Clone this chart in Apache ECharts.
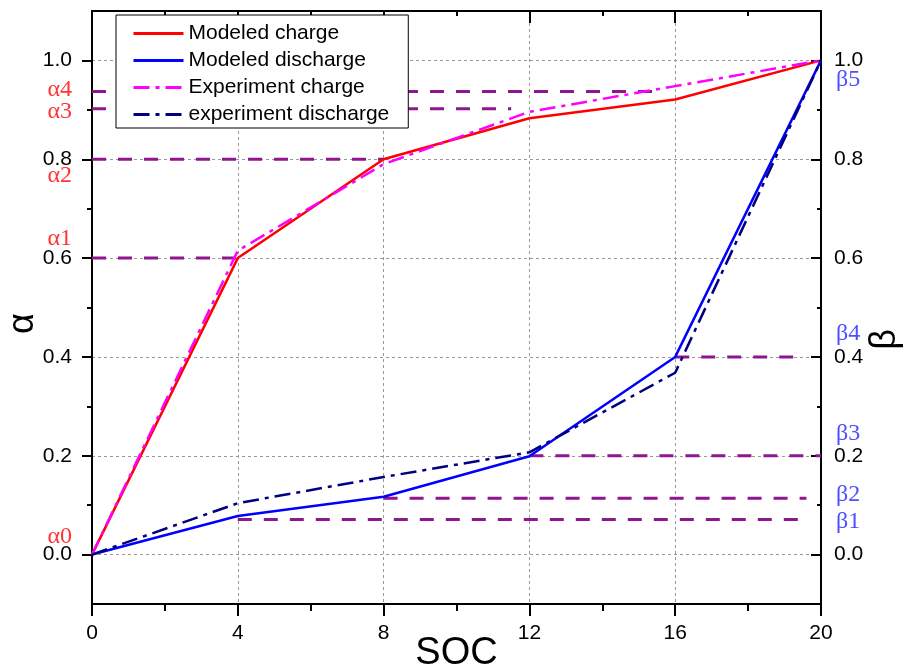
<!DOCTYPE html>
<html>
<head>
<meta charset="utf-8">
<script src="https://cdn.jsdelivr.net/npm/echarts@6/dist/echarts.min.js"></script>
<style>
html,body{margin:0;padding:0;background:#fff;}
#chart{width:915px;height:668px;}
</style>
</head>
<body>
<div id="chart"></div>
<script>
// ---- data ----
const soc = [0, 4, 8, 12, 16, 20];
const modeledCharge = [0, 0.6, 0.8, 0.883, 0.921, 1.0];
const modeledDischarge = [0, 0.078, 0.117, 0.199, 0.4, 1.0];
const experimentCharge = [0, 0.615, 0.79, 0.896, 0.948, 1.0];
const experimentDischarge = [0, 0.104, 0.157, 0.207, 0.368, 1.0];
const seriesNames = ['Modeled charge', 'Modeled discharge', 'Experiment charge', 'experiment discharge'];

const yTicks = [0, 0.2, 0.4, 0.6, 0.8, 1.0];

// reference (dashed) levels
const alphaLevels = [0.6, 0.8, 0.902, 0.937];
const alphaStart = [0, 0, 0, 0];
const alphaEnd = [4, 8, 11.5, 15.4];
const betaLevels = [0.071, 0.114, 0.2, 0.4];
const betaStart = [4, 8, 12, 16];
const betaEnd = [19.5, 19.6, 20, 19.4];

// annotation labels (text, y position)
const alphaNames = ['α0', 'α1', 'α2', 'α3', 'α4'];
const alphaLabelY = [0.037, 0.64, 0.766, 0.896, 0.941];
const betaNames = ['β1', 'β2', 'β3', 'β4', 'β5'];
const betaLabelY = [0.067, 0.122, 0.244, 0.447, 0.961];

const pair = (xs, ys) => xs.map((x, i) => [x, ys[i]]);

const chart = echarts.init(document.getElementById('chart'));

const refSeries = [];
alphaLevels.forEach((v, i) => {
  refSeries.push({
    type: 'line', xAxisIndex: 0, yAxisIndex: 0, silent: true, symbol: 'none', z: 1,
    data: [[alphaStart[i], v], [alphaEnd[i], v]],
    lineStyle: { color: '#8E168E', width: 3, type: [14, 12] }
  });
});
betaLevels.forEach((v, i) => {
  refSeries.push({
    type: 'line', xAxisIndex: 0, yAxisIndex: 1, silent: true, symbol: 'none', z: 1,
    data: [[betaStart[i], v], [betaEnd[i], v]],
    lineStyle: { color: '#8E168E', width: 3, type: [14, 12] }
  });
});

const axisFont = { fontFamily: 'Liberation Sans, Arial, sans-serif', fontSize: 21, color: '#000' };

const option = {
  animation: false,
  backgroundColor: '#fff',
  grid: { left: 92, right: 94, top: 11, bottom: 64, containLabel: false, outerBoundsMode: 'none' },
  legend: {
    data: seriesNames,
    orient: 'vertical',
    left: 116, top: 15,
    padding: [8, 19, 3, 16],
    itemWidth: 50, itemHeight: 14, itemGap: 6,
    backgroundColor: '#fff', borderColor: '#000', borderWidth: 1,
    itemStyle: { opacity: 0 },
    lineStyle: { width: 3 },
    textStyle: { fontFamily: 'Liberation Sans, Arial, sans-serif', fontSize: 21, color: '#000', lineHeight: 21 }
  },
  xAxis: [
    {
      type: 'value', position: 'bottom', min: 0, max: 20, interval: 4,
      name: 'SOC', nameLocation: 'middle', nameGap: 31, nameMoveOverlap: false,
      nameTextStyle: { fontFamily: 'Liberation Sans, Arial, sans-serif', fontSize: 38, color: '#000' },
      axisLine: { show: true, onZero: false, lineStyle: { color: '#000', width: 2 } },
      axisTick: { show: true, inside: false, length: 12, lineStyle: { color: '#000', width: 2 } },
      minorTick: { show: true, splitNumber: 2, length: 7, lineStyle: { color: '#000', width: 2 } },
      axisLabel: Object.assign({ margin: 19 }, axisFont),
      splitLine: { show: true, lineStyle: { color: '#999', width: 1, type: [3, 3] } }
    },
    {
      type: 'value', position: 'top', min: 0, max: 20, interval: 4,
      axisLine: { show: true, onZero: false, lineStyle: { color: '#000', width: 2 } },
      axisTick: { show: true, inside: true, length: 12, lineStyle: { color: '#000', width: 2 } },
      minorTick: { show: true, splitNumber: 2, length: 5, lineStyle: { color: '#000', width: 2 } },
      axisLabel: { show: false },
      splitLine: { show: false }
    }
  ],
  yAxis: [
    {
      type: 'value', position: 'left', min: -0.1, max: 1.1, splitNumber: 6,
      name: 'α', nameLocation: 'middle', nameGap: 51, nameRotate: 90, nameMoveOverlap: false,
      nameTextStyle: { fontFamily: 'Liberation Sans, Arial, sans-serif', fontSize: 36, color: '#000', padding: [0, 32, 0, 0] },
      axisLine: { show: true, onZero: false, lineStyle: { color: '#000', width: 2 } },
      axisTick: { show: true, inside: false, length: 10, customValues: yTicks, lineStyle: { color: '#000', width: 2 } },
      minorTick: { show: true, splitNumber: 2, length: 5, lineStyle: { color: '#000', width: 2 } },
      axisLabel: Object.assign({ margin: 20, customValues: yTicks, formatter: v => v.toFixed(1) }, axisFont),
      splitLine: { show: true, lineStyle: { color: '#999', width: 1, type: [3, 3] } }
    },
    {
      type: 'value', position: 'right', min: -0.1, max: 1.1, splitNumber: 6,
      name: 'β', nameLocation: 'middle', nameGap: 46, nameRotate: 90, nameMoveOverlap: false,
      nameTextStyle: { fontFamily: 'Liberation Sans, Arial, sans-serif', fontSize: 36, color: '#000', padding: [0, 64, 0, 0] },
      axisLine: { show: true, onZero: false, lineStyle: { color: '#000', width: 2 } },
      axisTick: { show: true, inside: true, length: 10, customValues: yTicks, lineStyle: { color: '#000', width: 2 } },
      minorTick: { show: true, splitNumber: 2, length: 4, lineStyle: { color: '#000', width: 2 } },
      axisLabel: Object.assign({ margin: 13, customValues: yTicks, formatter: v => v.toFixed(1) }, axisFont),
      splitLine: { show: false }
    }
  ],
  series: refSeries.concat([
    {
      name: seriesNames[0], type: 'line', xAxisIndex: 0, yAxisIndex: 0, symbol: 'none', z: 3,
      data: pair(soc, modeledCharge),
      lineStyle: { color: '#FF0000', width: 2.5 }, itemStyle: { color: '#FF0000' }
    },
    {
      name: seriesNames[1], type: 'line', xAxisIndex: 0, yAxisIndex: 1, symbol: 'none', z: 3,
      data: pair(soc, modeledDischarge),
      lineStyle: { color: '#0000FF', width: 2.5 }, itemStyle: { color: '#0000FF' }
    },
    {
      name: seriesNames[2], type: 'line', xAxisIndex: 0, yAxisIndex: 0, symbol: 'none', z: 4,
      data: pair(soc, experimentCharge),
      lineStyle: { color: '#FF00FF', width: 2.5, type: [16, 6, 4, 6] }, itemStyle: { color: '#FF00FF' }
    },
    {
      name: seriesNames[3], type: 'line', xAxisIndex: 0, yAxisIndex: 1, symbol: 'none', z: 4,
      data: pair(soc, experimentDischarge),
      lineStyle: { color: '#000080', width: 2.5, type: [16, 6, 4, 6] }, itemStyle: { color: '#000080' }
    },
    {
      type: 'scatter', xAxisIndex: 0, yAxisIndex: 0, silent: true, symbolSize: 0, z: 5,
      data: alphaNames.map((n, i) => [0, alphaLabelY[i], n]),
      label: {
        show: true, position: 'left', distance: 20,
        formatter: p => p.value[2],
        fontFamily: 'Liberation Serif, Times New Roman, serif', fontSize: 24, color: '#FF0000'
      }
    },
    {
      type: 'scatter', xAxisIndex: 0, yAxisIndex: 1, silent: true, symbolSize: 0, z: 5,
      data: betaNames.map((n, i) => [20, betaLabelY[i], n]),
      label: {
        show: true, position: 'right', distance: 15,
        formatter: p => p.value[2],
        fontFamily: 'Liberation Serif, Times New Roman, serif', fontSize: 24, color: '#2222FF'
      }
    }
  ])
};

chart.setOption(option);
</script>
</body>
</html>
